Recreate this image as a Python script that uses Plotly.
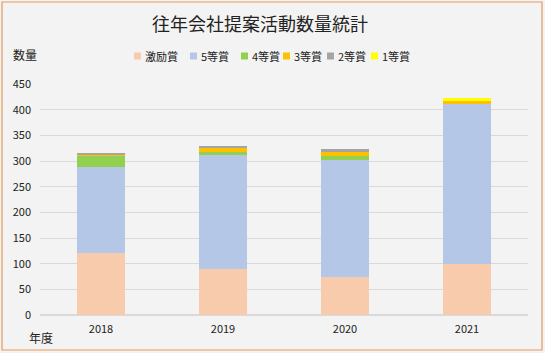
import plotly.graph_objects as go

years = ["2018", "2019", "2020", "2021"]
series_names = ["激励賞", "5等賞", "4等賞", "3等賞", "2等賞", "1等賞"]
v_gekirei = [120, 90, 75, 100]
v_5 = [168, 222, 227, 311]
v_4 = [22, 5, 8, 0]
v_3 = [2, 8, 8, 6]
v_2 = [4, 4, 6, 0]
v_1 = [0, 0, 0, 6]
series_values = [v_gekirei, v_5, v_4, v_3, v_2, v_1]
colors = ["#F8CBAD", "#B4C7E7", "#92D050", "#FFC000", "#A5A5A5", "#FFFF00"]
y_ticks = [0, 50, 100, 150, 200, 250, 300, 350, 400, 450]

FONT = "Noto Sans CJK JP"
W, H = 545, 353
L, R, T, B = 40, 17, 84, 38
PW, PH = W - L - R, H - T - B

def px_x(x):
    return (x - L) / PW

def px_y(y):
    return (H - B - y) / PH

fig = go.Figure()
for name, vals, c in zip(series_names, series_values, colors):
    fig.add_trace(go.Bar(x=years, y=vals, name=name, marker=dict(color=c, line=dict(width=0)),
                         showlegend=False))

shapes = [dict(type="rect", xref="paper", yref="paper",
               x0=px_x(2), x1=px_x(542), y0=px_y(350), y1=px_y(2),
               line=dict(color="#E59A5C", width=1.2), fillcolor="rgba(0,0,0,0)", layer="below")]
annotations = [
    dict(text="往年会社提案活動数量統計", xref="paper", yref="paper", x=px_x(260), y=px_y(23),
         showarrow=False, font=dict(family=FONT, size=18, color="#222"), xanchor="center", yanchor="middle"),
    dict(text="数量", xref="paper", yref="paper", x=px_x(11), y=px_y(55),
         showarrow=False, font=dict(family=FONT, size=12, color="#222"), xanchor="left", yanchor="middle"),
    dict(text="年度", xref="paper", yref="paper", x=px_x(27), y=px_y(337),
         showarrow=False, font=dict(family=FONT, size=12, color="#222"), xanchor="left", yanchor="middle"),
]
# compact legend
leg_sq_x = [134, 190, 241, 283, 327, 371]
leg_y = 56
for name, c, sx in zip(series_names, colors, leg_sq_x):
    shapes.append(dict(type="rect", xref="paper", yref="paper",
                       x0=px_x(sx), x1=px_x(sx + 7), y0=px_y(leg_y + 3.5), y1=px_y(leg_y - 3.5),
                       fillcolor=c, line=dict(width=0)))
    annotations.append(dict(text=name, xref="paper", yref="paper", x=px_x(sx + 9), y=px_y(leg_y),
                            showarrow=False, font=dict(family=FONT, size=11, color="#222"),
                            xanchor="left", yanchor="middle"))

fig.update_layout(
    width=W, height=H,
    margin=dict(l=L, r=R, t=T, b=B),
    barmode="stack", bargap=0.6,
    paper_bgcolor="#F3F3F3", plot_bgcolor="#F3F3F3",
    font=dict(family=FONT, size=11, color="#222"),
    shapes=shapes, annotations=annotations,
    xaxis=dict(showgrid=False, showline=False, ticks="", tickfont=dict(size=11), ticklabelstandoff=6),
    yaxis=dict(range=[0, 450], tickvals=y_ticks, showgrid=True, gridcolor="#D9D9D9", gridwidth=1,
               zeroline=True, zerolinecolor="#D9D9D9", showline=False, tickfont=dict(size=11),
               ticklabelstandoff=8),
)
fig.write_html("out.html")
